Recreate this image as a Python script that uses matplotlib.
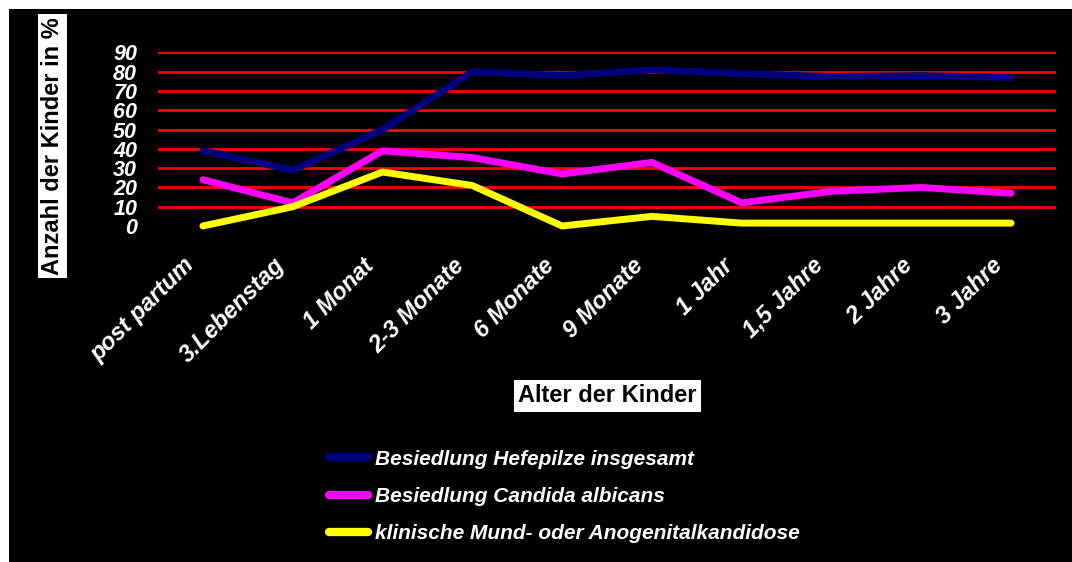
import matplotlib
matplotlib.use('Agg')
import matplotlib.pyplot as plt
from matplotlib.patches import Rectangle
from matplotlib.transforms import ScaledTranslation
import numpy as np

plt.rcParams['font.family'] = ['Liberation Sans', 'DejaVu Sans']

categories = ['post partum', '3.Lebenstag', '1 Monat', '2-3 Monate', '6 Monate',
              '9 Monate', '1 Jahr', '1,5 Jahre', '2 Jahre', '3 Jahre']
hefepilze = [39, 29, 50, 80, 78, 81, 79, 77.5, 78, 77]
candida = [24, 12, 39, 35.5, 27, 33, 12, 18, 20, 17]
kandidose = [0, 10, 28, 21, 0, 5, 1.5, 1.5, 1.5, 1.5]
labels = ['Besiedlung Hefepilze insgesamt', 'Besiedlung Candida albicans',
          'klinische Mund- oder Anogenitalkandidose']
colors = ['#000080', '#FF00FF', '#FFFF00']

W, H = 1072, 562
fig = plt.figure(figsize=(W / 100, H / 100), dpi=100)
fig.patch.set_facecolor('white')
# black panel with small white margin on top/left
fig.add_artist(Rectangle((9 / W, 0), 1, 1 - 9 / H, transform=fig.transFigure,
                         facecolor='black', edgecolor='none', zorder=0))

ax = fig.add_axes([158 / W, 1 - 226 / H, (1056 - 158) / W, (226 - 52.5) / H])
ax.patch.set_alpha(0)

x = np.arange(len(categories))
for series, c, lab in zip([hefepilze, candida, kandidose], colors, labels):
    ax.plot(x, series, color=c, lw=5, solid_capstyle='round', solid_joinstyle='round',
            label=lab, clip_on=False, zorder=3)

ax.set_xlim(-0.5, len(categories) - 0.5)
ax.set_ylim(0, 90)
ax.set_yticks(np.arange(0, 91, 10))
for yv in range(10, 91, 10):
    ax.axhline(yv, color='#FF0000', lw=2, zorder=1)

for s in ax.spines.values():
    s.set_visible(False)
ax.tick_params(length=0, colors='white')
ax.set_yticklabels([str(v) for v in range(0, 91, 10)], fontsize=15.5,
                   fontweight='bold', fontstyle='italic', color='white')
ax.tick_params(axis='y', pad=15)
ax.set_xticks(x)
ax.set_xticklabels(categories, rotation=45, ha='right', va='top', rotation_mode='anchor',
                   fontsize=17, fontweight='bold', fontstyle='italic', color='white')
ax.tick_params(axis='x', pad=20)
for lbl in ax.get_xticklabels():
    lbl.set_transform(lbl.get_transform() + ScaledTranslation(-0.20, 0, fig.dpi_scale_trans))

fig.text(52.5 / W, 1 - 146 / H, 'Anzahl der Kinder in %', rotation=90, ha='center', va='center',
         fontsize=17, fontweight='bold', color='black',
         bbox=dict(facecolor='white', edgecolor='none', pad=2))
fig.text(607 / W, 1 - 396 / H, 'Alter der Kinder', ha='center', va='center',
         fontsize=17, fontweight='bold', color='black',
         bbox=dict(facecolor='white', edgecolor='none', pad=3))

leg = fig.legend(loc='upper left', bbox_to_anchor=(310 / W, 1 - 431 / H), frameon=False,
                 handlelength=1.9, handletextpad=0.3, labelspacing=0.87,
                 prop=dict(size=15, weight='bold', style='italic'))
for t in leg.get_texts():
    t.set_color('white')
for h in leg.legend_handles:
    h.set_linewidth(6)

fig.savefig('out.png', dpi=100, facecolor=fig.get_facecolor())
